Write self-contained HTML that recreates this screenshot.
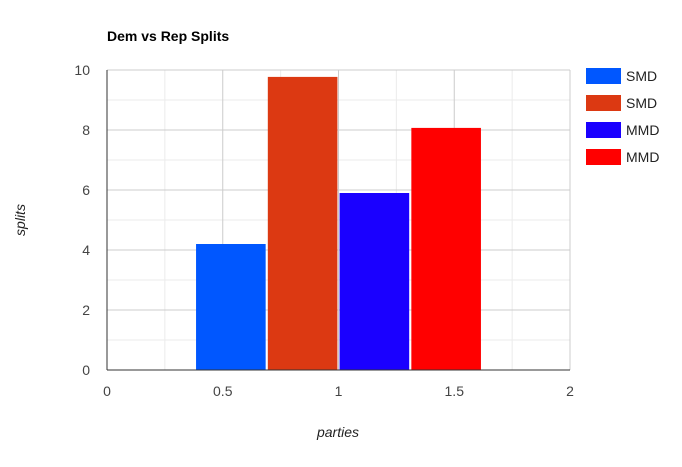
<!DOCTYPE html>
<html><head><meta charset="utf-8"><style>
body{margin:0;background:#fff;font-family:"Liberation Sans",Arial,sans-serif}
</style></head><body>
<svg width="682" height="462" xmlns="http://www.w3.org/2000/svg">
<rect width="682" height="462" fill="#fff"/>
<text x="107" y="41" font-size="14" font-weight="bold" fill="#000">Dem vs Rep Splits</text>
<g id="grid"></g>
<g id="bars"></g>
<g id="axes"></g>
<text x="338" y="437" font-size="14" font-style="italic" fill="#222" text-anchor="middle">parties</text>
<text transform="translate(25,220) rotate(-90)" font-size="14" font-style="italic" fill="#222" text-anchor="middle">splits</text>
<g id="legend"></g>
</svg>
<script>
const seriesNames = ["SMD","SMD","MMD","MMD"];
const seriesColors = ["#0057ff","#dc3912","#1a00ff","#ff0000"];
const seriesX = [0.535,0.845,1.155,1.465];
const seriesValues = [4.2,9.77,5.9,8.07];
const barWidth = 0.305;
const xTicks = [0,0.5,1,1.5,2];
const xTickLabels = ["0","0.5","1","1.5","2"];
const yTicks = [0,2,4,6,8,10];
const yTickLabels = ["0","2","4","6","8","10"];

const NS="http://www.w3.org/2000/svg";
const L=107,R=570,T=70,B=370;
const xs=v=>L+(v-0)/(2-0)*(R-L);
const ys=v=>B-(v/10)*(B-T);
function mk(tag,attrs,parent,txt){const e=document.createElementNS(NS,tag);for(const k in attrs)e.setAttribute(k,attrs[k]);if(txt!==undefined)e.textContent=txt;parent.appendChild(e);return e;}
const grid=document.getElementById('grid'),bars=document.getElementById('bars'),axes=document.getElementById('axes'),leg=document.getElementById('legend');
// minor grid
for(let i=0;i<xTicks.length-1;i++){const m=(xTicks[i]+xTicks[i+1])/2;const l=mk('line',{x1:xs(m),x2:xs(m),y1:T,y2:B,stroke:'#ebebeb','stroke-width':1},grid);}
for(let i=0;i<yTicks.length-1;i++){const m=(yTicks[i]+yTicks[i+1])/2;const l=mk('line',{x1:L,x2:R,y1:ys(m),y2:ys(m),stroke:'#ebebeb','stroke-width':1},grid);}
xTicks.forEach((t,i)=>{const l=mk('line',{x1:xs(t),x2:xs(t),y1:T,y2:B,stroke:'#cccccc','stroke-width':1},grid);
const tx=mk('text',{x:xs(t),y:396,'font-size':14,fill:'#444','text-anchor':'middle'},axes,xTickLabels[i]);});
yTicks.forEach((t,i)=>{const l=mk('line',{x1:L,x2:R,y1:ys(t),y2:ys(t),stroke:'#cccccc','stroke-width':1},grid);
const tx=mk('text',{x:90,y:ys(t)+5,'font-size':14,fill:'#444','text-anchor':'end'},axes,yTickLabels[i]);});
seriesValues.forEach((v,i)=>{const x0=xs(seriesX[i]-barWidth/2),x1=xs(seriesX[i]+barWidth/2);
const r=mk('rect',{x:x0+0.5,y:ys(v),width:x1-x0-1,height:ys(0)-ys(v),fill:seriesColors[i]},bars);});
const bl=mk('line',{x1:L,x2:R,y1:B,y2:B,stroke:'#333','stroke-width':1},axes);
const ll=mk('line',{x1:L,x2:L,y1:T,y2:B,stroke:'#333','stroke-width':1},axes);
seriesNames.forEach((n,i)=>{const y=68+i*27;const g=mk('g',{},leg);
mk('rect',{x:586,y:y,width:35,height:16,fill:seriesColors[i]},g);mk('text',{x:626,y:y+13,'font-size':14,fill:'#222'},g,n);});
</script>
</body></html>
